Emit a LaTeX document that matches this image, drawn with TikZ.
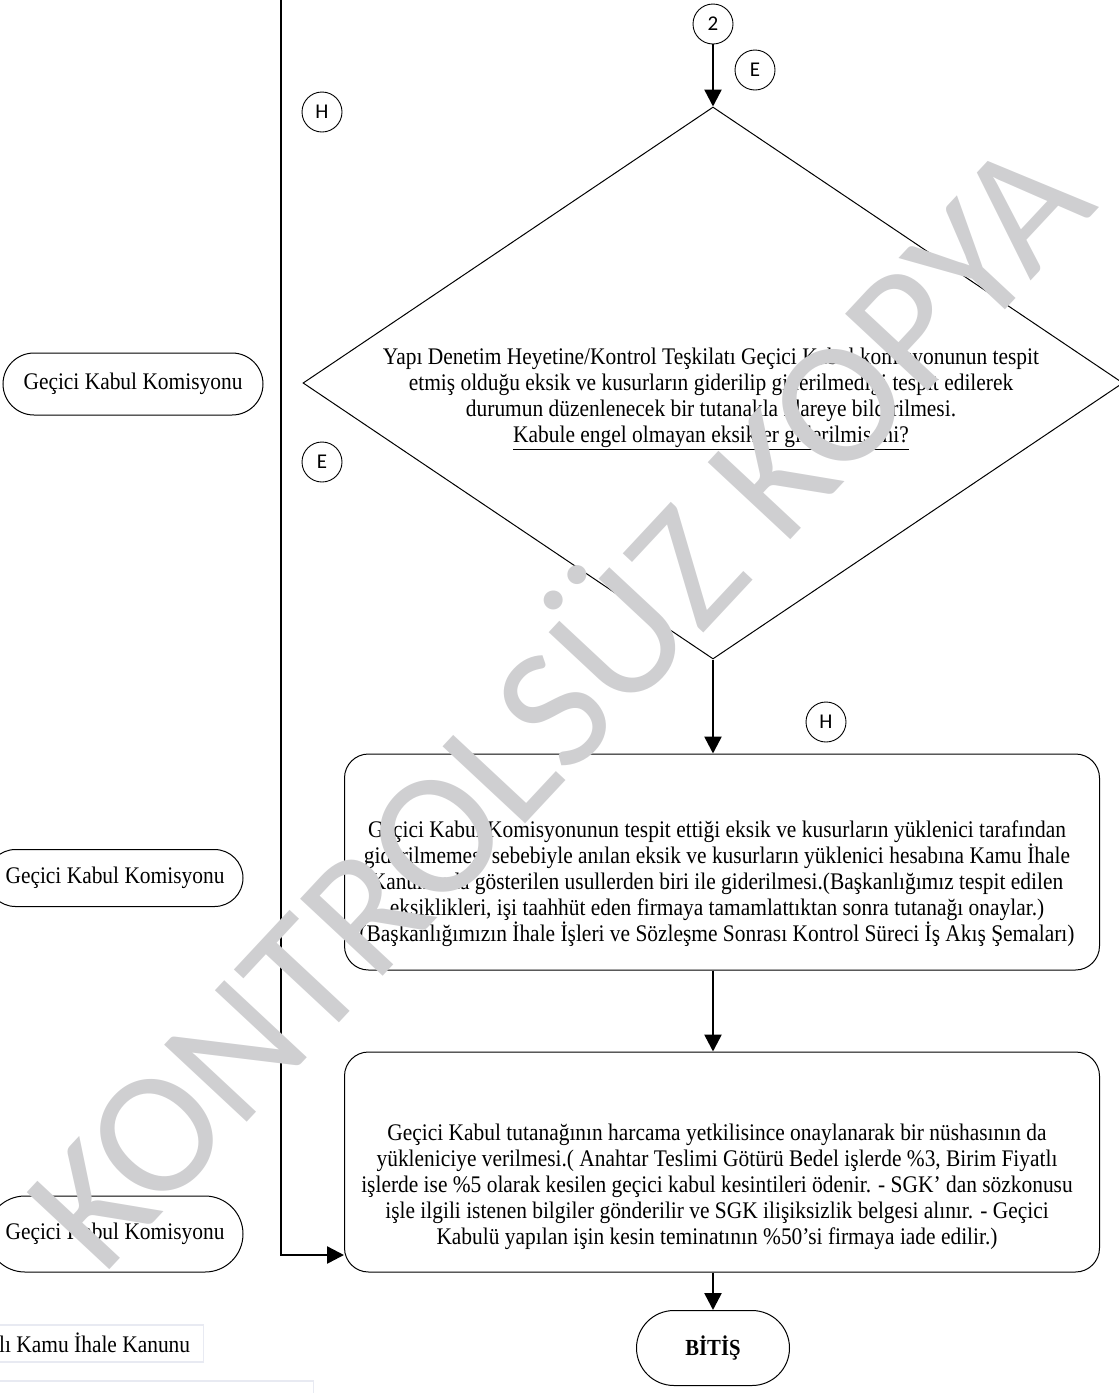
\documentclass[tikz,border=0pt]{standalone}
\usepackage{fontspec}
\setmainfont[FakeStretch=0.9]{Liberation Serif}
\newfontfamily\calfont{Carlito}
\usetikzlibrary{arrows.meta,shapes.geometric,shapes.misc,positioning}
\definecolor{wm}{RGB}{207,207,209}
\definecolor{notecol}{RGB}{232,234,242}

\begin{document}
\begin{tikzpicture}[x=1pt,y=-1pt,
  every node/.style={font=\fontsize{23.8}{26}\selectfont},
  term/.style={draw,rounded rectangle,line width=1pt,inner sep=0pt},
  lbl/.style={draw,circle,minimum size=40pt,inner sep=0pt,line width=0.9pt,font=\calfont\fontsize{21}{24}\selectfont},
  card/.style={draw,rounded corners=24pt,line width=1pt,minimum width=755pt,inner sep=0pt},
  txt/.style={align=center,inner sep=0pt},
  flow/.style={line width=2.5pt,-{Triangle[length=17pt,width=17pt]}},
  note/.style={draw=notecol,line width=1.5pt,inner sep=0pt,anchor=north east}
]
\clip (0,0) rectangle (1119,1393);

\node[lbl] (two) at (713,24) {2};
\node[lbl] (e1) at (755,70) {E};
\node[lbl] (h1) at (322,112) {H};
\node[lbl] (e2) at (322,462) {E};
\node[lbl] (h2) at (826,722) {H};

\node[draw,diamond,line width=1pt,minimum width=820pt,minimum height=552pt,inner sep=0pt] (check) at (713,383) {};
\node[txt] (checktxt) at (711,399) {Yapı Denetim Heyetine/Kontrol Teşkilatı Geçici Kabul komisyonunun tespit\\
  etmiş olduğu eksik ve kusurların giderilip giderilmediği tespit edilerek\\
  durumun düzenlenecek bir tutanakla idareye bildirilmesi.\\
  \underline{Kabule engel olmayan eksikler giderilmiş mi?}};

\node[card,minimum height=216pt] (fix) at (722,862) {};
\node[txt] (fixtxt) at (717,884) {Geçici Kabul Komisyonunun tespit ettiği eksik ve kusurların yüklenici tarafından\\
  giderilmemesi sebebiyle anılan eksik ve kusurların yüklenici hesabına Kamu İhale\\
  Kanununda gösterilen usullerden biri ile giderilmesi.(Başkanlığımız tespit edilen\\
  eksiklikleri, işi taahhüt eden firmaya tamamlattıktan sonra tutanağı onaylar.)\\
  (Başkanlığımızın İhale İşleri ve Sözleşme Sonrası Kontrol Süreci İş Akış Şemaları)};

\node[card,minimum height=220pt] (ok) at (722,1162) {};
\node[txt] (oktxt) at (717,1187) {Geçici Kabul tutanağının harcama yetkilisince onaylanarak bir nüshasının da\\
  yükleniciye verilmesi.( Anahtar Teslimi Götürü Bedel işlerde \%3, Birim Fiyatlı\\
  işlerde ise \%5 olarak kesilen geçici kabul kesintileri ödenir. - SGK' dan sözkonusu\\
  işle ilgili istenen bilgiler gönderilir ve SGK ilişiksizlik belgesi alınır. - Geçici\\
  Kabulü yapılan işin kesin teminatının \%50'si firmaya iade edilir.)};

\node[term,minimum width=260pt,minimum height=62pt] (kom1) at (133,384) {Geçici Kabul Komisyonu};
\node[term,minimum width=256pt,minimum height=57pt] (kom2) at (115,878) {Geçici Kabul Komisyonu};
\node[term,minimum width=256pt,minimum height=76pt] (kom3) at (115,1234) {Geçici Kabul Komisyonu};
\node[term,minimum width=153pt,minimum height=75pt,font=\fontsize{23}{26}\selectfont\bfseries] (end) at (713,1348) {BİTİŞ};

\node[note,minimum width=214pt,minimum height=37pt] (law) at (204,1324) {};
\node[anchor=west,inner sep=0pt] (lawtxt) at (-1,1343) {lı Kamu İhale Kanunu};
\node[note,minimum width=330pt,minimum height=40pt] (ref) at (314,1380) {};

\coordinate (rail) at (281,-5);
\draw[flow] (two) -- (check.north);
\draw[flow] (check.south) -- (check.south |- fix.north);
\draw[flow] (check.south |- fix.south) -- (check.south |- ok.north);
\draw[flow] (end.north |- ok.south) -- (end.north);
\draw[flow] (rail) |- ([yshift=-93pt]ok.west);

\node[rotate=47,text=wm,font=\calfont\fontsize{176}{176}\selectfont] (mark) at (550,695) {KONTROLSÜZ KOPYA};
\end{tikzpicture}
\end{document}
